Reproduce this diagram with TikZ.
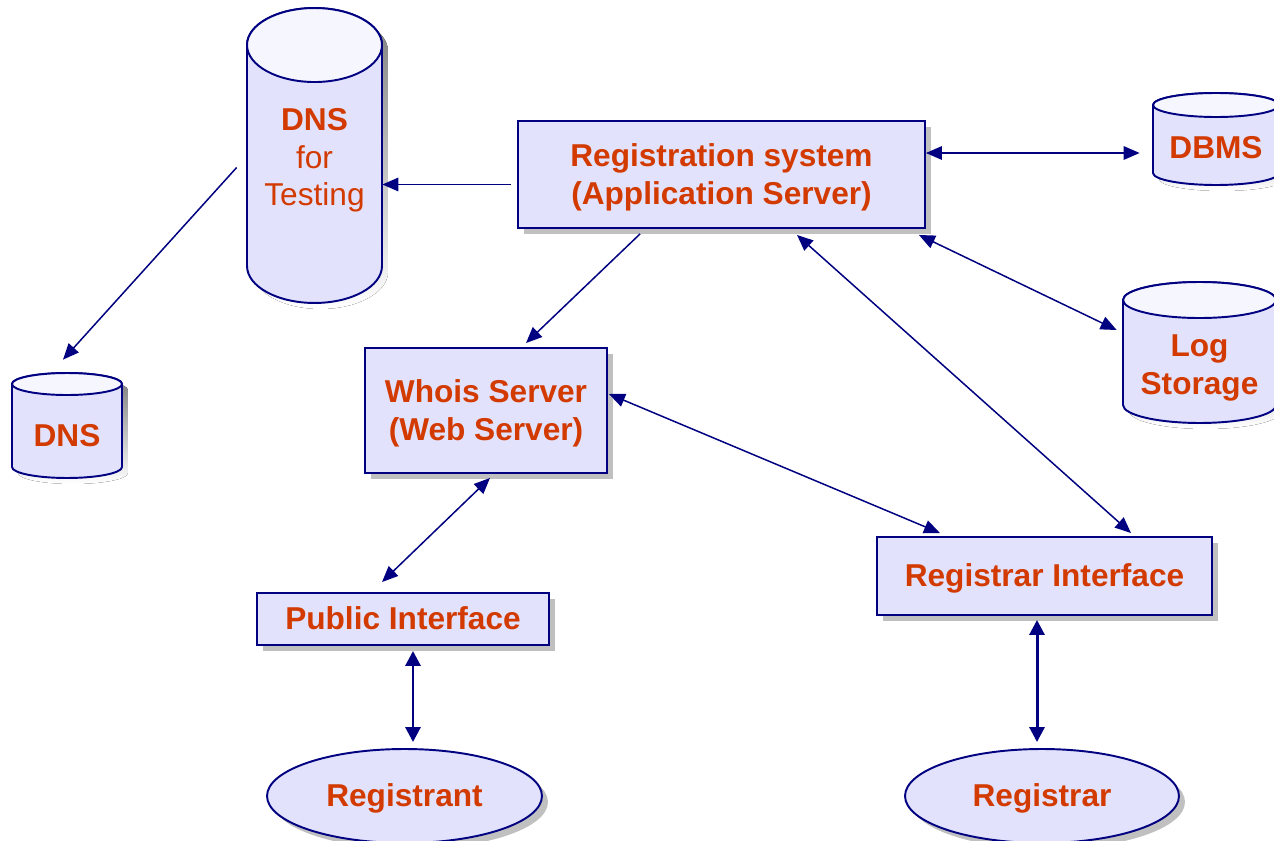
\documentclass[tikz,border=0pt]{standalone}
\usepackage{fontspec}
\setmainfont{Liberation Sans}
\usetikzlibrary{shapes.geometric,shadows,arrows.meta}
\definecolor{boxfill}{RGB}{226,226,252}
\definecolor{topfill}{RGB}{246,246,255}
\definecolor{navy}{RGB}{0,0,128}
\definecolor{txtred}{RGB}{210,58,0}
\definecolor{shade}{RGB}{192,192,192}
\tikzset{
  rim/.style={draw=navy, line width=1.1pt},
  label text/.style={text=txtred, font=\fontsize{18}{21.6}\selectfont\bfseries,
    align=center, inner sep=0pt},
  box/.style={rim, fill=boxfill, label text,
    drop shadow={shadow xshift=0.12cm, shadow yshift=-0.12cm, fill=shade, opacity=1}},
  user/.style={box, ellipse},
  arr/.style={draw=navy, line width=0.85pt, -{Triangle[length=0.32cm, width=0.27cm]}},
  dbl/.style={arr, {Triangle[length=0.32cm, width=0.27cm]}-{Triangle[length=0.32cm, width=0.27cm]}},
  fat/.style={draw=navy, line width=1.7pt,
    {Triangle[length=0.3cm, width=0.3cm]}-{Triangle[length=0.3cm, width=0.3cm]}}
}
%% line strut, with optional extra height on top
\newcommand{\st}[1][0pt]{\rule[-3.8pt]{0pt}{\dimexpr20.1pt+#1\relax}}
%% database drum: name, centre, half width, half height, end radius, text
\newcommand{\drum}[6]{%
  \begin{scope}[shift={#2}]
    \fill[shade, xshift=0.12cm, yshift=-0.12cm] (-#3,#4-#5) -- (-#3,-#4+#5)
      arc[start angle=180, end angle=360, x radius=#3, y radius=#5]
      -- (#3,#4-#5) arc[start angle=0, end angle=180, x radius=#3, y radius=#5] -- cycle;
    \path[rim, fill=boxfill] (-#3,#4-#5) -- (-#3,-#4+#5)
      arc[start angle=180, end angle=360, x radius=#3, y radius=#5]
      -- (#3,#4-#5) arc[start angle=0, end angle=180, x radius=#3, y radius=#5] -- cycle;
    \path[rim, fill=topfill] (0cm,#4-#5) ellipse [x radius=#3, y radius=#5];
  \end{scope}
  \node[label text, minimum width=2*#3, minimum height=2*#4] (#1) at #2 {#6};
}
\begin{document}
\begin{tikzpicture}[x=0.02cm, y=-0.02cm]
  \useasboundingbox (0,0) rectangle (1274,841);
  %% servers and interfaces
  \node[box, minimum width=8.14cm, minimum height=2.14cm] (reg) at (721.5,174.5)
    {\st Registration system\\(Application Server)};
  \node[box, minimum width=4.84cm, minimum height=2.5cm] (whois) at (486,410.5)
    {\st Whois Server\\(Web Server)};
  \node[box, minimum width=5.84cm, minimum height=1.04cm] (pubif) at (403,619)
    {\st Public Interface};
  \node[box, minimum width=6.7cm, minimum height=1.56cm] (regif) at (1044.5,576)
    {\st Registrar Interface};
  %% users
  \node[user, minimum width=5.5cm, minimum height=1.88cm] (rgt) at (404.5,796) {\st Registrant};
  \node[user, minimum width=5.48cm, minimum height=1.88cm] (rar) at (1042,796) {\st Registrar};
  %% databases
  \drum{dnst}{(314.5,155.5)}{1.35cm}{2.95cm}{0.74cm}
    {\st[0.06cm]DNS\\{\mdseries for}\\{\mdseries Testing}}
  \drum{dns}{(67,425.5)}{1.1cm}{1.05cm}{0.22cm}{\st[0.4cm]DNS}
  \drum{dbms}{(1216,139)}{1.26cm}{0.92cm}{0.24cm}{\st[0.34cm]DBMS}
  \drum{log}{(1199.5,352.5)}{1.53cm}{1.41cm}{0.36cm}{\st[0.48cm]Log\\Storage}
  %% connectors
  \coordinate (p1) at ([shift={(-6,10)}]reg.west);
  \draw[arr] (p1) -- (p1 -| dnst.east);
  \draw[arr] ([shift={(-10,12)}]dnst.west) -- ([shift={(-4,-13)}]dns.north);
  \draw[arr] ([shift={(-81.5,5)}]reg.south) -- ([shift={(40,-4)}]whois.north);
  \coordinate (p4) at ([shift={(0,-21.5)}]reg.east);
  \draw[dbl, shorten >=0.26cm] (p4) -- (p4 -| dbms.west);
  \draw[dbl] ([shift={(-7,6)}]reg.south east) -- ([shift={(-6,-22.5)}]log.west);
  \draw[dbl] ([shift={(75.5,6)}]reg.south) -- ([shift={(86.5,-3)}]regif.north);
  \draw[dbl] ([shift={(1,-16.5)}]whois.east) -- ([shift={(-104.5,-3)}]regif.north);
  \draw[dbl] ([shift={(4,4)}]whois.south) -- ([shift={(-21,-10)}]pubif.north);
  \coordinate (p9) at ([shift={(10,5)}]pubif.south);
  \draw[fat, shorten >=0.12cm] (p9) -- (p9 |- rgt.north);
  \coordinate (p10) at ([shift={(-7.5,4)}]regif.south);
  \draw[fat, shorten >=0.12cm] (p10) -- (p10 |- rar.north);
\end{tikzpicture}
\end{document}
